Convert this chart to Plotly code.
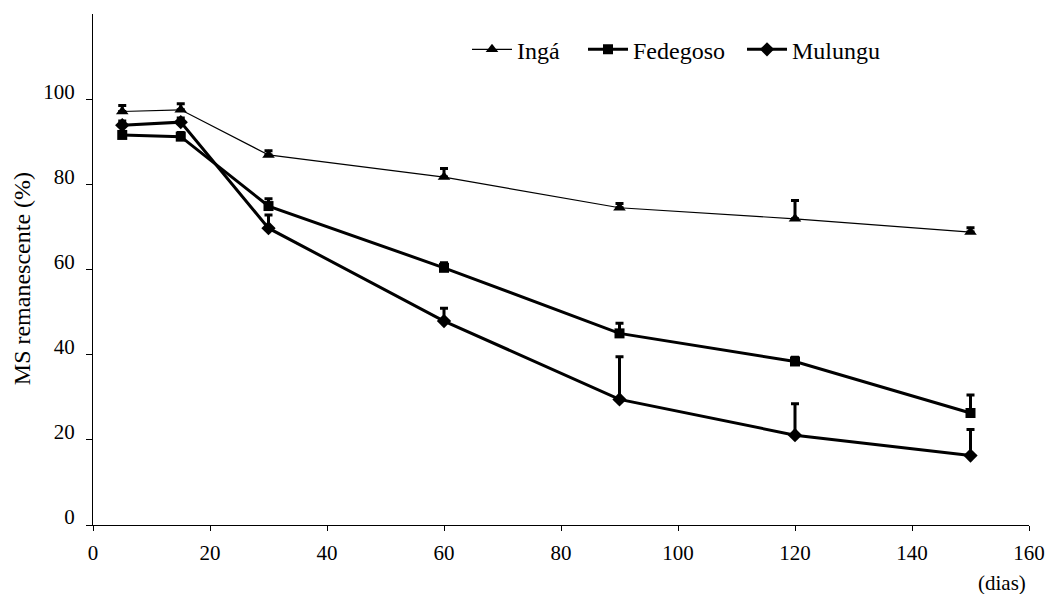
import plotly.graph_objects as go

dias = [5, 15, 30, 60, 90, 120, 150]
inga = [97.1, 97.5, 86.9, 81.7, 74.5, 71.9, 68.8]
inga_err = [1.4, 1.4, 1.0, 2.0, 1.0, 4.3, 1.0]
fedegoso = [91.6, 91.2, 74.9, 60.4, 45.0, 38.4, 26.3]
fedegoso_err = [2.0, 1.0, 1.7, 1.2, 2.4, 1.0, 4.2]
mulungu = [93.9, 94.6, 69.7, 47.9, 29.5, 21.1, 16.3]
mulungu_err = [1.0, 1.0, 3.1, 3.0, 10.0, 7.4, 6.1]

x_ticks = [0, 20, 40, 60, 80, 100, 120, 140, 160]
y_ticks = [0, 20, 40, 60, 80, 100]

FONT = "Liberation Serif"

def err(vals):
    return dict(type="data", symmetric=False, array=vals, arrayminus=[0] * len(vals),
                color="black", thickness=3, width=4)

fig = go.Figure()
fig.add_trace(go.Scatter(x=dias, y=inga, name="Ingá", mode="lines+markers",
                         line=dict(color="black", width=1.2),
                         marker=dict(symbol="triangle-up", size=11, color="black"),
                         error_y=err(inga_err), legend="legend"))
fig.add_trace(go.Scatter(x=dias, y=fedegoso, name="Fedegoso", mode="lines+markers",
                         line=dict(color="black", width=3),
                         marker=dict(symbol="square", size=10, color="black"),
                         error_y=err(fedegoso_err), legend="legend2"))
fig.add_trace(go.Scatter(x=dias, y=mulungu, name="Mulungu", mode="lines+markers",
                         line=dict(color="black", width=3),
                         marker=dict(symbol="diamond", size=11, color="black"),
                         error_y=err(mulungu_err), legend="legend3"))

PLOT_L, PLOT_R = 93, 1029
PLOT_W = PLOT_R - PLOT_L

def leg(xpx):
    return dict(orientation="h", x=(xpx - PLOT_L) / PLOT_W, y=0.93, xanchor="left", yanchor="middle",
                font=dict(family=FONT, size=24), bgcolor="rgba(0,0,0,0)", itemwidth=40)

fig.update_layout(
    width=1052, height=594,
    margin=dict(l=PLOT_L, r=1052 - PLOT_R, t=14, b=69),
    paper_bgcolor="white", plot_bgcolor="white",
    font=dict(family=FONT, size=21, color="black"),
    showlegend=True,
    legend=leg(467), legend2=leg(583), legend3=leg(742),
    xaxis=dict(range=[0, 160], tickvals=x_ticks, showgrid=False, zeroline=False,
               showline=True, linecolor="black", linewidth=1,
               ticks="outside", ticklen=5, tickcolor="black",
               tickfont=dict(family=FONT, size=21), ticklabelstandoff=4,
               automargin=False, ticklabeloverflow="allow"),
    yaxis=dict(range=[0, 120], tickvals=y_ticks, showgrid=False, zeroline=False,
               showline=True, linecolor="black", linewidth=1,
               ticks="outside", ticklen=6, tickcolor="black",
               tickfont=dict(family=FONT, size=21), ticklabelstandoff=7,
               ticklabelshift=-8, automargin=False),
    annotations=[
        dict(text="(dias)", xref="paper", yref="paper", x=(1027 - PLOT_L) / PLOT_W, y=-0.113,
             xanchor="right", yanchor="middle", showarrow=False, borderpad=0,
             font=dict(family=FONT, size=21)),
        dict(text="MS remanescente (%)", xref="paper", yref="paper",
             x=(22 - PLOT_L) / PLOT_W, y=0.481, xanchor="center", yanchor="middle",
             textangle=-90, showarrow=False, font=dict(family=FONT, size=24)),
    ],
)

fig.write_html("out.html", config={"displayModeBar": False},
               post_script="document.body.style.margin='0px';")
